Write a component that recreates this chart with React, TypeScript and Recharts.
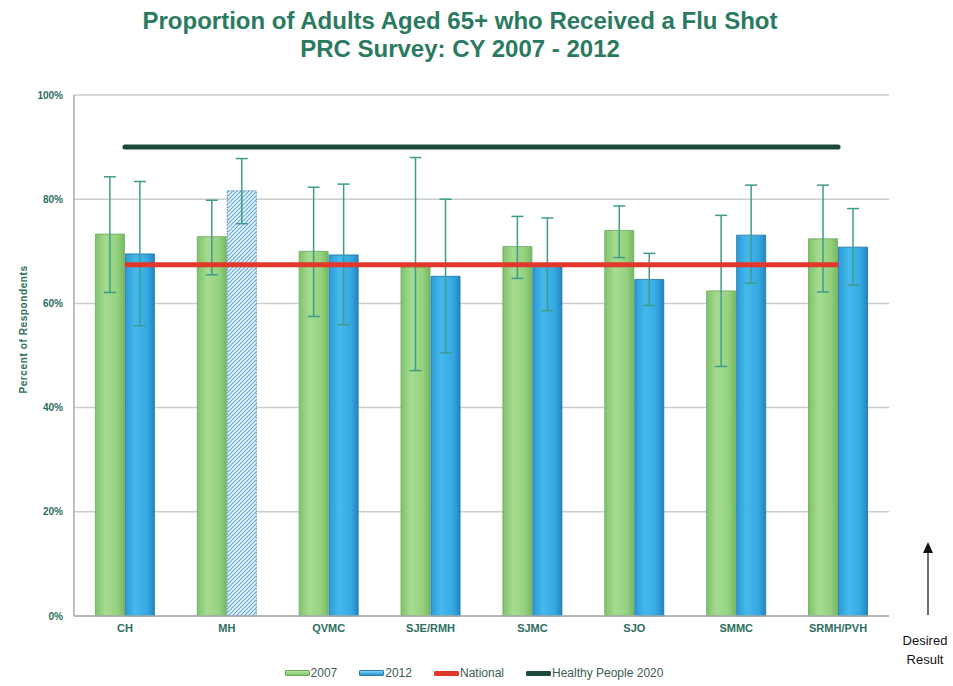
import React from 'react';
import { ComposedChart, Bar, Line, XAxis, YAxis, CartesianGrid, ErrorBar, Cell, Label } from 'recharts';

const categories = ['CH', 'MH', 'QVMC', 'SJE/RMH', 'SJMC', 'SJO', 'SMMC', 'SRMH/PVH'];
const values2007 = [73.3, 72.8, 70.0, 67.0, 70.9, 74.0, 62.4, 72.4];
const values2012 = [69.5, 81.6, 69.3, 65.2, 67.5, 64.6, 73.1, 70.8];
const low2007 = [62.1, 65.5, 57.5, 47.1, 64.8, 68.8, 47.9, 62.2];
const high2007 = [84.3, 79.8, 82.3, 88.0, 76.7, 78.7, 76.9, 82.7];
const low2012 = [55.7, 75.3, 55.9, 50.5, 58.6, 59.6, 63.9, 63.5];
const high2012 = [83.4, 87.8, 82.9, 80.0, 76.4, 69.6, 82.7, 78.2];
const hatched2012 = ['MH'];
const nationalValue = 67.4;
const healthyPeople2020 = 90;
const yTicks = [0, 20, 40, 60, 80, 100];

const data = categories.map((c, i) => ({
  name: c,
  v2007: values2007[i],
  v2012: values2012[i],
  e2007: [values2007[i] - low2007[i], high2007[i] - values2007[i]],
  e2012: [values2012[i] - low2012[i], high2012[i] - values2012[i]],
  national: nationalValue,
  hp: healthyPeople2020,
}));

const TEAL = '#2c6e60';
const FONT = '"Liberation Sans", Arial, sans-serif';

const legendItems = [
  { label: '2007', bg: 'linear-gradient(#b8e6a4,#7cc46a)', border: '#6aa85a', h: 6 },
  { label: '2012', bg: 'linear-gradient(#7fd3f5,#2a96d0)', border: '#2a7fb0', h: 6 },
  { label: 'National', bg: '#e2382b', border: '#e2382b', h: 5 },
  { label: 'Healthy People 2020', bg: '#1d4a3c', border: '#1d4a3c', h: 5 },
];

const YLabel = (props: any) => {
  const vb = props.viewBox || { x: 0, y: 0, height: 0 };
  const cx = vb.x + 24;
  const cy = vb.y + vb.height * 0.45;
  return (
    <text
      x={cx}
      y={cy}
      transform={`rotate(-90, ${cx}, ${cy})`}
      textAnchor="middle"
      dominantBaseline="central"
      fill={TEAL}
      fontSize={10}
      fontWeight="bold"
      fontFamily={FONT}
      letterSpacing={0.6}
    >
      Percent of Respondents
    </text>
  );
};

export default function App() {
  return (
    <div style={{ position: 'absolute', left: 0, top: 0, width: 953, height: 686, background: '#fff', fontFamily: FONT }}>
      <div
        style={{
          position: 'absolute',
          left: 0,
          top: 7,
          width: 920,
          textAlign: 'center',
          color: '#2a7a60',
          fontWeight: 'bold',
          fontSize: 24,
          lineHeight: '28px',
        }}
      >
        <div>Proportion of Adults Aged 65+ who Received a Flu Shot</div>
        <div>PRC Survey: CY 2007 - 2012</div>
      </div>
      <div style={{ position: 'absolute', left: 0, top: 0 }}>
        <ComposedChart
          width={953}
          height={686}
          data={data}
          margin={{ top: 95, right: 64, bottom: 40, left: 0 }}
          barCategoryGap="21%"
          barGap={1}
        >
          <defs>
            <linearGradient id="g2007" x1="0" y1="0" x2="1" y2="0">
              <stop offset="0%" stopColor="#7fc36c" />
              <stop offset="35%" stopColor="#a6db90" />
              <stop offset="75%" stopColor="#95d27e" />
              <stop offset="100%" stopColor="#76b964" />
            </linearGradient>
            <linearGradient id="g2012" x1="0" y1="0" x2="1" y2="0">
              <stop offset="0%" stopColor="#2d9bd6" />
              <stop offset="35%" stopColor="#45b9ec" />
              <stop offset="75%" stopColor="#35a9e2" />
              <stop offset="100%" stopColor="#2286c2" />
            </linearGradient>
            <pattern id="hatch" patternUnits="userSpaceOnUse" width="4" height="4">
              <rect width="4" height="4" fill="#eef6fb" />
              <path d="M-1,1 l2,-2 M0,4 l4,-4 M3,5 l2,-2" stroke="#5aa8d6" strokeWidth="1.1" />
            </pattern>
          </defs>
          <CartesianGrid vertical={false} stroke="#c9cdcb" strokeWidth={1.5} />
          <XAxis
            dataKey="name"
            height={30}
            tickLine={false}
            axisLine={{ stroke: '#a9aeac', strokeWidth: 1.5 }}
            tickMargin={2}
            tick={{ fill: TEAL, fontSize: 11, fontWeight: 'bold', fontFamily: FONT }}
          />
          <YAxis
            width={74}
            domain={[0, 100]}
            ticks={yTicks}
            tickFormatter={(v: number) => `${v}%`}
            tickLine={false}
            tickSize={8}
            tickMargin={3}
            axisLine={{ stroke: '#a9aeac', strokeWidth: 1.5 }}
            tick={{ fill: TEAL, fontSize: 10, fontWeight: 'bold', fontFamily: FONT }}
          >
            <Label content={<YLabel />} />
          </YAxis>
          <Bar dataKey="v2007" fill="url(#g2007)" stroke="#6aa85a" strokeWidth={0.8} isAnimationActive={false}>
            <ErrorBar dataKey="e2007" width={6} stroke="#3f9c8c" strokeWidth={1.5} isAnimationActive={false} />
          </Bar>
          <Bar dataKey="v2012" fill="url(#g2012)" stroke="#1f6f9f" strokeWidth={0.8} isAnimationActive={false}>
            {data.map((d) => (
              <Cell
                key={d.name}
                fill={hatched2012.includes(d.name) ? 'url(#hatch)' : 'url(#g2012)'}
                stroke={hatched2012.includes(d.name) ? '#4a86b4' : '#1f6f9f'}
                strokeDasharray={hatched2012.includes(d.name) ? '2 1' : undefined}
              />
            ))}
            <ErrorBar dataKey="e2012" width={6} stroke="#3f9c8c" strokeWidth={1.5} isAnimationActive={false} />
          </Bar>
          <Line dataKey="national" stroke="#e2382b" strokeWidth={5} dot={false} activeDot={false} isAnimationActive={false} />
          <Line dataKey="hp" stroke="#1d4a3c" strokeWidth={5} strokeLinecap="round" dot={false} activeDot={false} isAnimationActive={false} />
        </ComposedChart>
      </div>
      <div
        style={{
          position: 'absolute',
          top: 666,
          left: 0,
          width: 970,
          display: 'flex',
          justifyContent: 'center',
          alignItems: 'center',
          fontSize: 12,
          color: '#3d5a55',
        }}
      >
        {legendItems.map((it) => (
          <div key={it.label} style={{ display: 'flex', alignItems: 'center', marginRight: 22 }}>
            <div style={{ width: 25, height: it.h, background: it.bg, border: `1px solid ${it.border}`, borderRadius: 1, boxSizing: 'border-box' }} />
            <span style={{ marginLeft: 1 }}>{it.label}</span>
          </div>
        ))}
      </div>
      <svg style={{ position: 'absolute', left: 895, top: 535 }} width={60} height={140}>
        <line x1={33} y1={18} x2={33} y2={80} stroke="#222" strokeWidth={1.3} />
        <polygon points="28,18 38,18 33,7" fill="#111" />
        <text x={30} y={110} textAnchor="middle" fontSize={13} fill="#111" fontFamily={FONT}>Desired</text>
        <text x={30} y={129} textAnchor="middle" fontSize={13} fill="#111" fontFamily={FONT}>Result</text>
      </svg>
    </div>
  );
}
